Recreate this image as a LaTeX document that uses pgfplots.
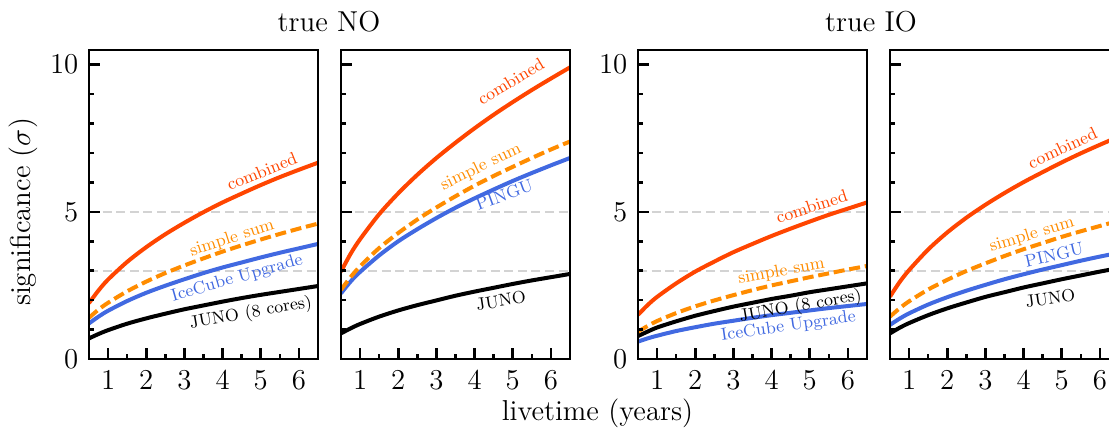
\documentclass[12pt,border=0pt]{standalone}
\usepackage{pgfplots}
\pgfplotsset{compat=1.18}
\definecolor{comb}{HTML}{FF4500}
\definecolor{simp}{HTML}{FF8C00}
\definecolor{det}{HTML}{4169E1}
\definecolor{guide}{HTML}{D3D3D3}

\pgfplotsset{
  panel/.style={
    scale only axis, width=114.5pt, height=154.5pt,
    anchor=south west,
    xmin=0.5, xmax=6.5, ymin=0, ymax=10.5,
    xtick={1,2,3,4,5,6}, minor xtick={1.5,2.5,3.5,4.5,5.5},
    ytick={0,5,10}, minor ytick={1,2,3,4,6,7,8,9},
    xtick pos=lower, ytick pos=left, tick align=inside,
    major tick length=5.5pt, minor tick length=2.7pt,
    tick style={black, line width=1.3pt},
    axis line style={line width=1.4pt},
    tick label style={font=\large},
    xticklabel style={yshift=-1.8pt},
    yticklabel style={xshift=-1.2pt},
    axis on top,
  },
  noy/.style={yticklabels={}},
}
\tikzset{
  sig/.style={line width=2pt},
  sumline/.style={line width=2pt, simp, dash pattern=on 5.5pt off 2.4pt},
  lab/.style={font=\fontsize{8.7}{10}\selectfont, inner sep=0pt},
}
\newcommand{\guides}{%
  \addplot[guide, line width=1pt, dash pattern=on 4.5pt off 2.3pt] coordinates {(0.5,3) (6.5,3)};
  \addplot[guide, line width=1pt, dash pattern=on 4.5pt off 2.3pt] coordinates {(0.5,5) (6.5,5)};
}

\begin{document}
\begin{tikzpicture}
% true NO, IceCube Upgrade
\begin{axis}[panel, at={(44.5pt,37.5pt)}]
  \guides
  \addplot[sig, black, smooth] coordinates {(0.5,0.70) (0.75,0.85) (1,0.98) (1.5,1.20) (2,1.38) (2.5,1.54) (3,1.69) (3.5,1.82) (4,1.95) (4.5,2.07) (5,2.18) (5.5,2.28) (6,2.38) (6.5,2.48)};
  \addplot[sig, det, smooth] coordinates {(0.5,1.21) (0.75,1.44) (1,1.64) (1.5,1.97) (2,2.25) (2.5,2.49) (3,2.71) (3.5,2.92) (4,3.11) (4.5,3.28) (5,3.45) (5.5,3.61) (6,3.76) (6.5,3.91)};
  \addplot[sumline, smooth] coordinates {(0.5,1.40) (0.75,1.68) (1,1.91) (1.5,2.30) (2,2.63) (2.5,2.92) (3,3.18) (3.5,3.42) (4,3.65) (4.5,3.86) (5,4.06) (5.5,4.25) (6,4.43) (6.5,4.60)};
  \addplot[sig, comb, smooth] coordinates {(0.5,1.90) (0.75,2.33) (1,2.70) (1.5,3.30) (2,3.80) (2.5,4.24) (3,4.63) (3.5,4.99) (4,5.32) (4.5,5.62) (5,5.91) (5.5,6.18) (6,6.43) (6.5,6.67)};
  \node[lab, text=comb, rotate=22] at (axis cs:5.03,6.37) {combined};
  \node[lab, text=simp, rotate=18] at (axis cs:4.25,4.10) {simple sum};
  \node[lab, text=det, rotate=16] at (axis cs:4.38,2.74) {IceCube Upgrade};
  \node[lab, text=black, rotate=10] at (axis cs:4.74,1.55) {JUNO (8 cores)};
\end{axis}
% true NO, PINGU
\begin{axis}[panel, noy, at={(170.5pt,37.5pt)}]
  \guides
  \addplot[sig, black, smooth] coordinates {(0.5,0.87) (0.75,1.04) (1,1.19) (1.5,1.44) (2,1.65) (2.5,1.83) (3,1.99) (3.5,2.15) (4,2.29) (4.5,2.42) (5,2.55) (5.5,2.67) (6,2.78) (6.5,2.89)};
  \addplot[sig, det, smooth] coordinates {(0.5,2.23) (0.75,2.63) (1,2.96) (1.5,3.52) (2,4.00) (2.5,4.41) (3,4.79) (3.5,5.14) (4,5.46) (4.5,5.76) (5,6.05) (5.5,6.32) (6,6.58) (6.5,6.83)};
  \addplot[sumline, smooth] coordinates {(0.5,2.35) (0.75,2.78) (1,3.15) (1.5,3.77) (2,4.28) (2.5,4.74) (3,5.15) (3.5,5.53) (4,5.89) (4.5,6.22) (5,6.53) (5.5,6.83) (6,7.12) (6.5,7.39)};
  \addplot[sig, comb, smooth] coordinates {(0.5,2.97) (0.75,3.57) (1,4.07) (1.5,4.92) (2,5.63) (2.5,6.26) (3,6.83) (3.5,7.35) (4,7.84) (4.5,8.30) (5,8.73) (5.5,9.14) (6,9.53) (6.5,9.91)};
  \node[lab, text=comb, rotate=31] at (axis cs:4.95,9.43) {combined};
  \node[lab, text=simp, rotate=26] at (axis cs:4.17,6.52) {simple sum};
  \node[lab, text=det, rotate=20] at (axis cs:4.78,5.58) {PINGU};
  \node[lab, text=black, rotate=9] at (axis cs:4.69,1.98) {JUNO};
\end{axis}
% true IO, IceCube Upgrade
\begin{axis}[panel, at={(319pt,37.5pt)}]
  \guides
  \addplot[sig, det, smooth] coordinates {(0.5,0.59) (0.75,0.70) (1,0.79) (1.5,0.95) (2,1.08) (2.5,1.20) (3,1.30) (3.5,1.40) (4,1.49) (4.5,1.57) (5,1.65) (5.5,1.73) (6,1.80) (6.5,1.87)};
  \addplot[sig, black, smooth] coordinates {(0.5,0.78) (0.75,0.93) (1,1.07) (1.5,1.28) (2,1.47) (2.5,1.63) (3,1.78) (3.5,1.91) (4,2.04) (4.5,2.15) (5,2.27) (5.5,2.37) (6,2.47) (6.5,2.57)};
  \addplot[sumline, smooth] coordinates {(0.5,0.93) (0.75,1.12) (1,1.29) (1.5,1.56) (2,1.79) (2.5,1.99) (3,2.17) (3.5,2.34) (4,2.50) (4.5,2.64) (5,2.78) (5.5,2.91) (6,3.04) (6.5,3.16)};
  \addplot[sig, comb, smooth] coordinates {(0.5,1.50) (0.75,1.83) (1,2.11) (1.5,2.57) (2,2.97) (2.5,3.31) (3,3.63) (3.5,3.91) (4,4.18) (4.5,4.43) (5,4.67) (5.5,4.90) (6,5.11) (6.5,5.32)};
  \node[lab, text=comb, rotate=18] at (axis cs:5.05,5.18) {combined};
  \node[lab, text=simp, rotate=10] at (axis cs:4.26,2.97) {simple sum};
  \node[lab, text=black, rotate=10] at (axis cs:4.76,1.78) {JUNO (8 cores)};
  \node[lab, text=det, rotate=8] at (axis cs:4.44,1.10) {IceCube Upgrade};
\end{axis}
% true IO, PINGU
\begin{axis}[panel, noy, at={(445pt,37.5pt)}]
  \guides
  \addplot[sig, black, smooth] coordinates {(0.5,0.87) (0.75,1.06) (1,1.22) (1.5,1.49) (2,1.72) (2.5,1.92) (3,2.11) (3.5,2.27) (4,2.43) (4.5,2.57) (5,2.71) (5.5,2.84) (6,2.97) (6.5,3.09)};
  \addplot[sig, det, smooth] coordinates {(0.5,1.16) (0.75,1.37) (1,1.55) (1.5,1.85) (2,2.10) (2.5,2.32) (3,2.52) (3.5,2.71) (4,2.88) (4.5,3.04) (5,3.19) (5.5,3.34) (6,3.48) (6.5,3.61)};
  \addplot[sumline, smooth] coordinates {(0.5,1.44) (0.75,1.72) (1,1.96) (1.5,2.36) (2,2.69) (2.5,2.99) (3,3.25) (3.5,3.50) (4,3.73) (4.5,3.94) (5,4.15) (5.5,4.34) (6,4.52) (6.5,4.70)};
  \addplot[sig, comb, smooth] coordinates {(0.5,2.12) (0.75,2.61) (1,3.02) (1.5,3.72) (2,4.30) (2.5,4.80) (3,5.24) (3.5,5.64) (4,6.01) (4.5,6.35) (5,6.68) (5.5,6.99) (6,7.28) (6.5,7.56)};
  \node[lab, text=comb, rotate=25] at (axis cs:5.02,7.17) {combined};
  \node[lab, text=simp, rotate=17] at (axis cs:4.22,4.22) {simple sum};
  \node[lab, text=det, rotate=13] at (axis cs:4.80,3.54) {PINGU};
  \node[lab, text=black, rotate=8] at (axis cs:4.70,2.07) {JUNO};
\end{axis}
\node[font=\large] at (164.5pt,206pt) {true NO};
\node[font=\large] at (435.5pt,206pt) {true IO};
\node[font=\large, rotate=90] at (11.5pt,111pt) {significance ($\sigma$)};
\node[font=\large] at (298.75pt,10.5pt) {livetime (years)};
\pgfresetboundingbox
\useasboundingbox (0,0) rectangle (554.5pt,217pt);
\end{tikzpicture}
\end{document}
